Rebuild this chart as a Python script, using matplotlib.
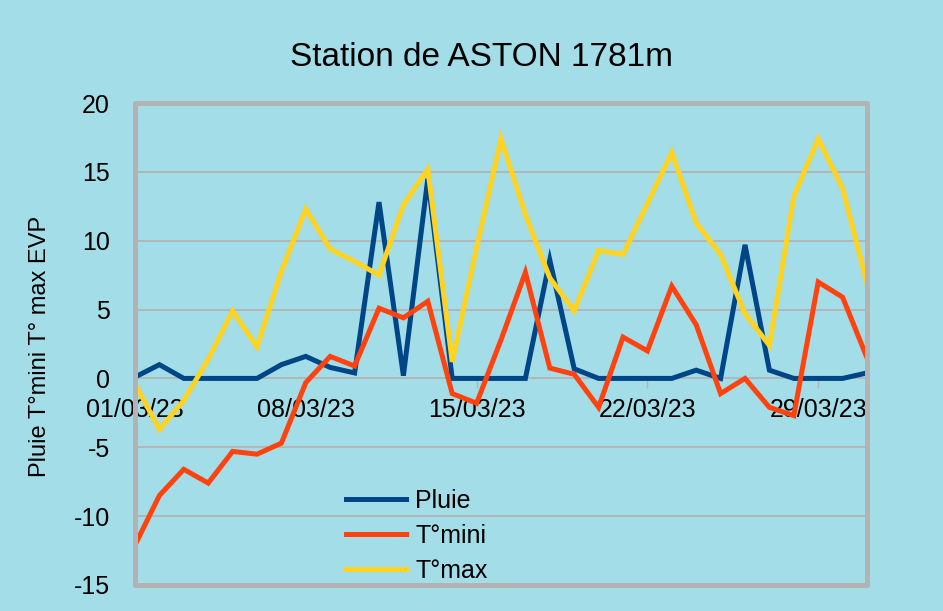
import matplotlib.pyplot as plt
import numpy as np
from matplotlib.patches import Rectangle

# daily values, March 2023
days = list(range(1, 32))
pluie = [0.1, 1.0, 0.0, 0.0, 0.0, 0.0, 1.0, 1.6, 0.8, 0.4,
         12.8, 0.2, 14.5, 0.0, 0.0, 0.0, 0.0, 8.6, 0.7, 0.0,
         0.0, 0.0, 0.0, 0.6, 0.0, 9.7, 0.6, 0.0, 0.0, 0.0, 0.4]
tmini = [-12.1, -8.5, -6.6, -7.6, -5.3, -5.5, -4.7, -0.3, 1.6, 0.9,
         5.1, 4.4, 5.6, -1.1, -1.8, 2.8, 7.7, 0.75, 0.3, -2.1,
         3.0, 2.0, 6.7, 3.9, -1.1, 0.0, -2.1, -2.7, 7.0, 5.9, 1.5]
tmax = [-0.4, -3.7, -1.6, 1.4, 4.9, 2.3, 7.8, 12.3, 9.4, 8.5,
        7.5, 12.6, 15.2, 1.2, 9.5, 17.4, 11.9, 7.3, 4.9, 9.3,
        9.0, 12.7, 16.4, 11.3, 9.0, 4.7, 2.4, 13.2, 17.4, 13.8, 6.9]

tick_days = [1, 8, 15, 22, 29]
tick_labels = ["01/03/23", "08/03/23", "15/03/23", "22/03/23", "29/03/23"]

bg = "#a2dde8"
grey = "#b3b3b3"

plt.rcParams["font.family"] = ["Liberation Sans", "DejaVu Sans"]
plt.rcParams["axes.unicode_minus"] = False

fig = plt.figure(figsize=(9.43, 6.11), dpi=100, facecolor=bg)
ax = fig.add_axes([135 / 943, 1 - 585 / 611, 732 / 943, 482 / 611])
ax.set_facecolor(bg)

ax.plot(days, pluie, color="#004586", lw=3.6, label="Pluie", solid_joinstyle="miter")
ax.plot(days, tmini, color="#ff420e", lw=3.6, label="T°mini", solid_joinstyle="miter")
ax.plot(days, tmax, color="#ffd320", lw=3.6, label="T°max", solid_joinstyle="miter")

ax.set_xlim(1, 31)
ax.set_ylim(-15, 20)
ax.set_yticks(np.arange(-15, 21, 5))
ax.yaxis.grid(True, color=grey, lw=1.3)
ax.set_axisbelow(True)

for s in ax.spines.values():
    s.set_visible(False)
ax.spines["bottom"].set_position(("data", 0))

ax.set_xticks(tick_days)
ax.set_xticklabels(tick_labels)
ax.tick_params(axis="x", length=7, width=1, color=grey, pad=7, labelsize=18)
ax.tick_params(axis="y", length=0, pad=18, labelsize=18)

frame = Rectangle((0, 0), 1, 1, transform=ax.transAxes, fill=False,
                  edgecolor=grey, lw=3.6, joinstyle="round", clip_on=False, zorder=10)
ax.add_patch(frame)

fig.text(481 / 943, 1 - 57 / 611, "Station de ASTON 1781m", fontsize=24,
         ha="center", va="center")
fig.text(40 / 943, 1 - 346 / 611, "Pluie T°mini T° max EVP", fontsize=17,
         rotation=90, ha="center", va="center")

ax.legend(loc="upper left", bbox_to_anchor=(346 / 943, 1 - 489 / 611),
          bbox_transform=fig.transFigure, frameon=False, fontsize=18,
          borderpad=0, handlelength=2.4, handletextpad=0.36, labelspacing=0.44,
          borderaxespad=0)

fig.savefig("out.png", dpi=100, facecolor=bg)
